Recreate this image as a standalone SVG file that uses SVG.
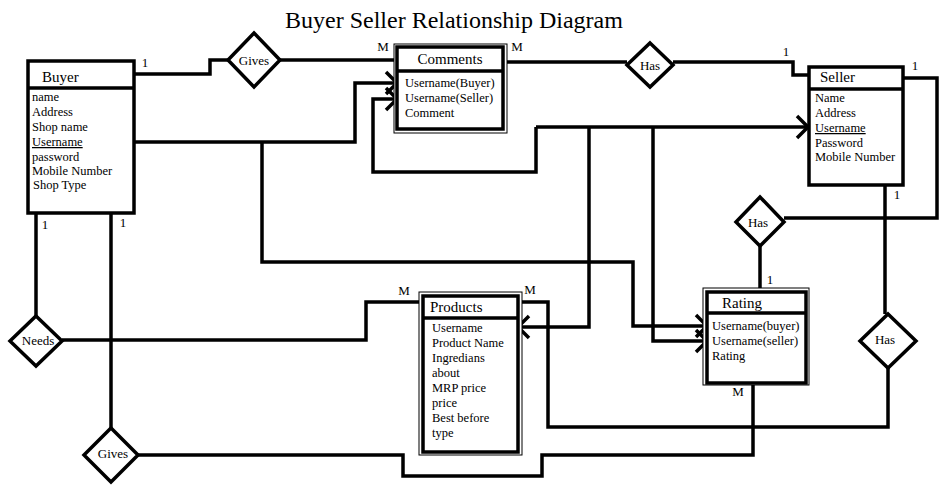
<svg xmlns="http://www.w3.org/2000/svg" width="952" height="491" viewBox="0 0 952 491">
<defs>
<marker id="chev" markerUnits="userSpaceOnUse" markerWidth="18" markerHeight="26" refX="13" refY="13" orient="auto" overflow="visible">
<path d="M2,2 L13,13 L2,24" fill="none" stroke="#000" stroke-width="3.5"/>
</marker>
<style>
text{font-family:"Liberation Serif","Times New Roman",serif;fill:#000}
.t{font-size:24px}
.h{font-size:15px}
.a{font-size:12.5px}
.l{font-size:13px;text-anchor:middle}
.d{font-size:13px;text-anchor:middle}
.box{fill:#fff;stroke:#000;stroke-width:3.5}
.thin{fill:#fff;stroke:#000;stroke-width:1}
.dia{fill:#fff;stroke:#000;stroke-width:3.5;stroke-linejoin:miter}
.c{fill:none;stroke:#000;stroke-width:3.5}
.ar{marker-end:url(#chev)}
</style>
</defs>
<rect width="952" height="491" fill="#fff"/>
<text class="t" x="285" y="28">Buyer Seller Relationship Diagram</text>

<g id="connectors">
<polyline class="c" points="134,74 210,74 210,60 228,60"/>
<polyline class="c" points="280,60 397,60"/>
<polyline class="c" points="503,62 627,62"/>
<polyline class="c" points="673,62 793,62 793,75 809,75"/>
<polyline class="c" points="903,78 937,78 937,218 784,218"/>
<polyline class="c" points="760,246 760,292"/>
<polyline class="c" points="885,185 885,314"/>
<polyline class="c" points="888,368 888,427 548,427 548,302 518,302"/>
<polyline class="c" points="753,383 753,455 542,455 542,476 403,476 403,455 138,455"/>
<polyline class="c" points="111,213 111,428"/>
<polyline class="c" points="36,213 36,316"/>
<polyline class="c" points="62,340 366,340 366,302 423,302"/>
<polyline class="c ar" points="134,142 355,142 355,83 397,83"/>
<polyline class="c ar" points="262,142 262,262 633,262 633,326 707,326"/>
<polyline class="c ar" points="536,127 808,127"/>
<polyline class="c ar" points="536,127 536,172 373,172 373,99 397,99"/>
<polyline class="c ar" points="589,127 589,327 518,327"/>
<polyline class="c ar" points="653,127 653,341 707,341"/>
</g>

<g id="buyer">
<rect class="box" x="28" y="61" width="106" height="152"/>
<line class="c" x1="28" y1="88" x2="134" y2="88"/>
<text class="h" x="42" y="82">Buyer</text>
<text class="a" x="32" y="101">name</text>
<text class="a" x="32" y="116">Address</text>
<text class="a" x="32" y="131">Shop name</text>
<text class="a" x="32" y="146" text-decoration="underline">Username</text>
<text class="a" x="32" y="161">password</text>
<text class="a" x="32" y="175">Mobile Number</text>
<text class="a" x="33" y="189">Shop Type</text>
</g>

<g id="seller">
<rect class="box" x="809" y="67" width="94" height="118"/>
<line class="c" x1="809" y1="89" x2="903" y2="89"/>
<text class="h" x="820" y="82">Seller</text>
<text class="a" x="815" y="102">Name</text>
<text class="a" x="815" y="117">Address</text>
<text class="a" x="815" y="132" text-decoration="underline">Username</text>
<text class="a" x="815" y="147">Password</text>
<text class="a" x="815" y="161">Mobile Number</text>
</g>

<g id="comments">
<rect class="thin" x="394" y="44" width="113" height="89"/>
<rect class="box" x="397" y="47" width="106" height="82"/>
<line class="c" x1="397" y1="71" x2="503" y2="71"/>
<text class="h" x="450" y="64" text-anchor="middle">Comments</text>
<text class="a" x="405" y="87">Username(Buyer)</text>
<text class="a" x="405" y="102">Username(Seller)</text>
<text class="a" x="405" y="117">Comment</text>
</g>

<g id="products">
<rect class="thin" x="419" y="292" width="103" height="163"/>
<rect class="box" x="423" y="296" width="95" height="156"/>
<line class="c" x1="423" y1="318" x2="518" y2="318"/>
<text class="h" x="430" y="312">Products</text>
<text class="a" x="432" y="332">Username</text>
<text class="a" x="432" y="347">Product Name</text>
<text class="a" x="432" y="362">Ingredians</text>
<text class="a" x="432" y="377">about</text>
<text class="a" x="432" y="392">MRP price</text>
<text class="a" x="432" y="407">price</text>
<text class="a" x="432" y="422">Best before</text>
<text class="a" x="432" y="437">type</text>
</g>

<g id="rating">
<rect class="thin" x="703" y="288" width="106" height="97"/>
<rect class="box" x="707" y="292" width="99" height="91"/>
<line class="c" x1="707" y1="313" x2="806" y2="313"/>
<text class="h" x="722" y="308">Rating</text>
<text class="a" x="712" y="330">Username(buyer)</text>
<text class="a" x="712" y="345">Username(seller)</text>
<text class="a" x="712" y="360">Rating</text>
</g>

<g id="gives-top">
<polygon class="dia" points="254,33 280,60 254,87 228,60"/>
<text class="d" x="254" y="65">Gives</text>
</g>
<g id="has-top">
<polygon class="dia" points="650,43 673,65 650,87 627,65"/>
<text class="d" x="650" y="70">Has</text>
</g>
<g id="has-mid">
<polygon class="dia" points="760,197 784,222 760,246 736,222"/>
<text class="d" x="758" y="227">Has</text>
</g>
<g id="has-right">
<polygon class="dia" points="888,314 916,341 888,368 860,341"/>
<text class="d" x="885" y="344">Has</text>
</g>
<g id="needs">
<polygon class="dia" points="36,316 62,341 36,366 10,341"/>
<text class="d" x="38" y="345">Needs</text>
</g>
<g id="gives-bottom">
<polygon class="dia" points="111,428 138,455 111,482 84,455"/>
<text class="d" x="113" y="458">Gives</text>
</g>

<g id="labels">
<text class="l" x="145" y="67">1</text>
<text class="l" x="383" y="51">M</text>
<text class="l" x="517" y="51">M</text>
<text class="l" x="786" y="56">1</text>
<text class="l" x="915" y="70">1</text>
<text class="l" x="897" y="199">1</text>
<text class="l" x="770" y="284">1</text>
<text class="l" x="738" y="396">M</text>
<text class="l" x="530" y="294">M</text>
<text class="l" x="404" y="295">M</text>
<text class="l" x="45" y="229">1</text>
<text class="l" x="123" y="227">1</text>
</g>
</svg>
